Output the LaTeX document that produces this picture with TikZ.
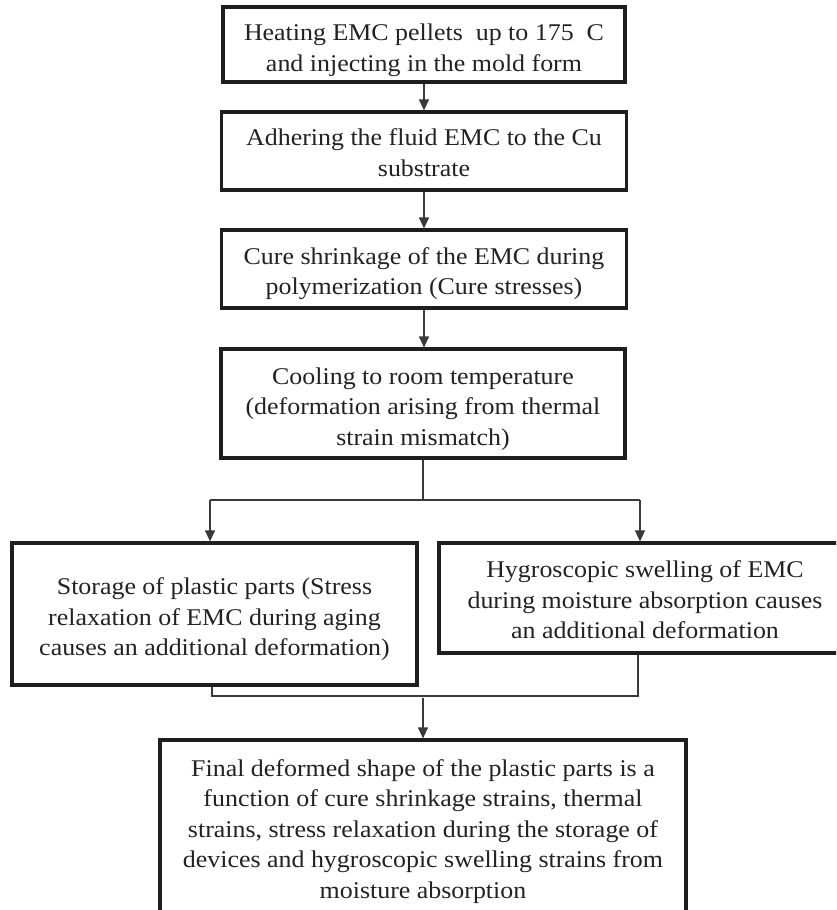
\documentclass[tikz,border=0pt]{standalone}
\usepackage{fontspec}
\setmainfont[FakeStretch=1.08]{Liberation Serif}
\usetikzlibrary{arrows.meta}
\definecolor{boxcol}{HTML}{1E1E1E}
\definecolor{lincol}{HTML}{3A3A3A}
\definecolor{txtcol}{HTML}{222222}
\newcommand{\lowtext}[2][5pt]{\raisebox{-#1}[\height][\depth]{\begin{tabular}{@{}c@{}}#2\end{tabular}}}
\tikzset{
  stagebox/.style={draw=boxcol, line width=3.2pt, text=txtcol,
    font=\fontsize{24pt}{30.5pt}\selectfont, inner sep=0pt},
  conn/.style={draw=lincol, line width=1.2pt},
  arr/.style={conn, -{Triangle[length=11pt,width=10pt]}}
}
\begin{document}
\begin{tikzpicture}[x=1pt,y=1pt]
\useasboundingbox (0,0) rectangle (836,-910);
\clip (0,0) rectangle (836,-910);
\node[stagebox, minimum width=402pt, minimum height=75pt] (b1) at (424,-44.5)
  {\lowtext[5.5pt]{Heating EMC pellets\ \ up to 175\ \ C\\and injecting in the mold form}};
\node[stagebox, minimum width=405pt, minimum height=78pt] (b2) at (424,-151)
  {\lowtext[4pt]{Adhering the fluid EMC to the Cu\\substrate}};
\node[stagebox, minimum width=405pt, minimum height=78pt] (b3) at (424,-269)
  {\lowtext[4.5pt]{Cure shrinkage of the EMC during\\polymerization (Cure stresses)}};
\node[stagebox, minimum width=404pt, minimum height=109pt] (b4) at (423,-403.5)
  {\lowtext[5pt]{Cooling to room temperature\\(deformation arising from thermal\\strain mismatch)}};
\node[stagebox, minimum width=405pt, minimum height=142pt] (bl) at (214.5,-614)
  {\lowtext[5pt]{Storage of plastic parts (Stress\\relaxation of EMC during aging\\causes an additional deformation)}};
\node[stagebox, minimum width=412pt, minimum height=110pt] (br) at (645,-598)
  {\lowtext[4pt]{Hygroscopic swelling of EMC\\during moisture absorption causes\\an additional deformation}};
\node[stagebox, minimum width=526pt, minimum height=177pt] (bf) at (423,-828.5)
  {\lowtext[2.5pt]{Final deformed shape of the plastic parts is a\\function of cure shrinkage strains, thermal\\strains, stress relaxation during the storage of\\devices and hygroscopic swelling strains from\\moisture absorption}};
% connectors
\draw[arr] (b1.south) -- (b1.south |- b2.north);
\draw[arr] (b2.south) -- (b2.south |- b3.north);
\draw[arr] (b3.south) -- (b3.south |- b4.north);
\coordinate (sl) at (210,-500);
\coordinate (sr) at (640,-500);
\draw[conn] (b4.south) -- (b4.south |- sl);
\draw[conn] (sl) -- (sr);
\draw[arr] (sl) -- (sl |- bl.north);
\draw[arr] (sr) -- (sr |- br.north);
\coordinate (ml) at (212,-696);
\coordinate (mr) at (638,-696);
\coordinate (mm) at (423,-698);
\draw[conn] (ml |- bl.south) -- (ml) -- (mr) -- (mr |- br.south);
\draw[arr] (mm) -- (bf.north);
\end{tikzpicture}
\end{document}
